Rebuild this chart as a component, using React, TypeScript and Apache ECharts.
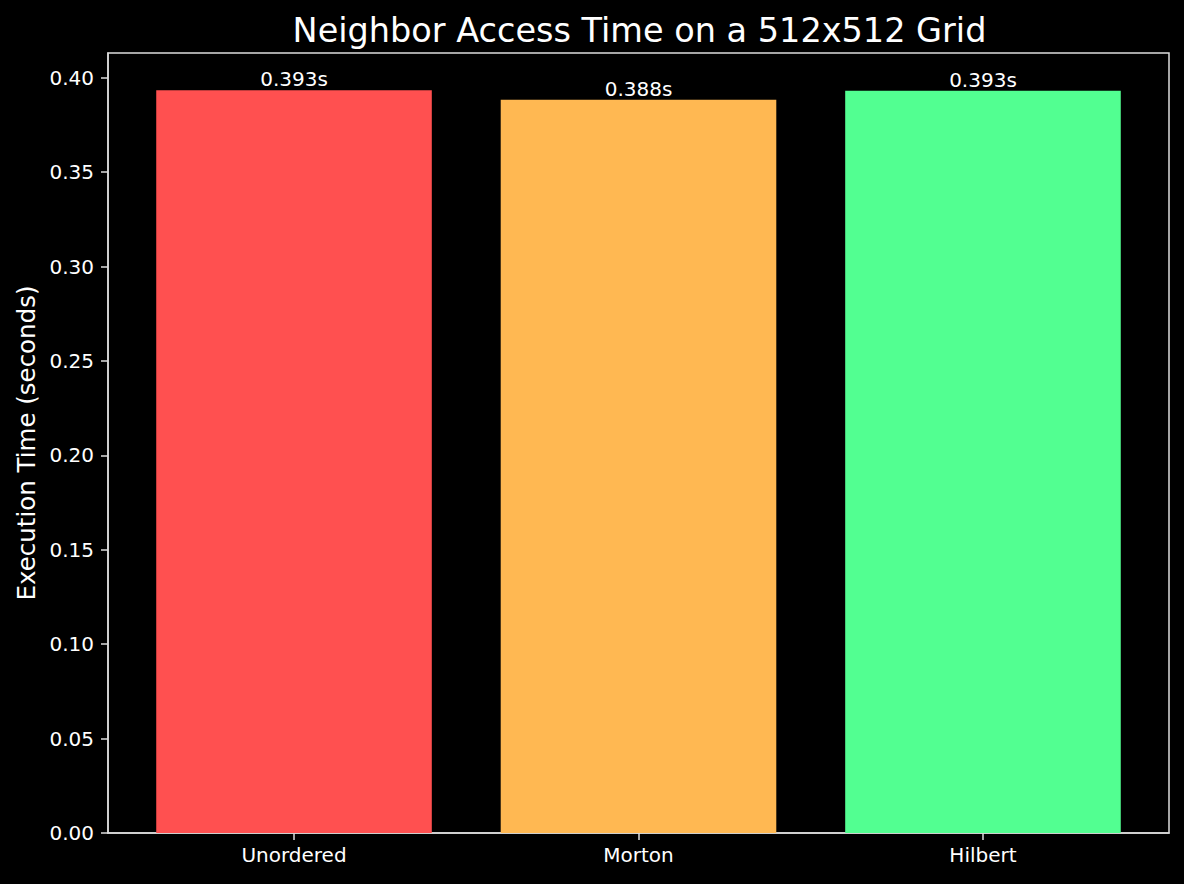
import React, { useEffect, useRef } from "react";
import * as echarts from "echarts";

const categories = ["Unordered", "Morton", "Hilbert"];
const times = [0.3934, 0.3884, 0.3931];
const barColors = ["#ff5050", "#ffb852", "#52ff91"];
const yTicks = [0, 0.05, 0.1, 0.15, 0.2, 0.25, 0.3, 0.35, 0.4];
const yMax = 0.4131;
const xMin = -0.54;
const xMax = 2.54;

export default function App() {
  const ref = useRef<HTMLDivElement>(null);
  useEffect(() => {
    document.body.style.margin = "0";
    document.body.style.background = "#000";
    const chart = echarts.init(ref.current!, undefined, { renderer: "svg" });
    const font = "DejaVu Sans";
    const axisColor = "#dddddd";
    const plotLeft = 108;
    const plotRight = 1169;
    const barW = (0.8 * (plotRight - plotLeft)) / (xMax - xMin);
    chart.setOption({
      animation: false,
      backgroundColor: "#000000",
      textStyle: { fontFamily: font },
      title: {
        text: "Neighbor Access Time on a 512x512 Grid",
        left: (plotLeft + plotRight) / 2 - 4,
        textAlign: "center",
        top: 8,
        textStyle: { color: "#ffffff", fontSize: 33.5, fontWeight: "normal", fontFamily: font },
      },
      grid: {
        left: plotLeft,
        right: 1184 - plotRight,
        top: 53,
        bottom: 884 - 833,
        show: true,
        borderColor: axisColor,
        borderWidth: 1.5,
        backgroundColor: "transparent",
      },
      xAxis: {
        type: "value",
        min: xMin,
        max: xMax,
        splitLine: { show: false },
        axisLine: { show: true, onZero: false, lineStyle: { color: axisColor, width: 1.5 } },
        axisTick: { show: true, length: 7, customValues: [0, 1, 2], lineStyle: { color: axisColor, width: 1.5 } },
        axisLabel: {
          customValues: [0, 1, 2],
          color: "#ffffff",
          fontSize: 20,
          fontFamily: font,
          margin: 12,
          formatter: (v: number) => categories[Math.round(v)] ?? "",
        },
      },
      yAxis: {
        type: "value",
        min: 0,
        max: yMax,
        name: "Execution Time (seconds)",
        nameLocation: "middle",
        nameGap: 68,
        nameTextStyle: { color: "#ffffff", fontSize: 24.5, fontFamily: font },
        splitLine: { show: false },
        axisLine: { show: true, onZero: false, lineStyle: { color: axisColor, width: 1.5 } },
        axisTick: { show: true, length: 7, customValues: yTicks, lineStyle: { color: axisColor, width: 1.5 } },
        axisLabel: {
          customValues: yTicks,
          color: "#ffffff",
          fontSize: 20,
          fontFamily: font,
          margin: 14,
          formatter: (v: number) => v.toFixed(2),
        },
      },
      series: [
        {
          type: "bar",
          barWidth: barW,
          data: times.map((t, i) => ({ value: [i, t], itemStyle: { color: barColors[i] } })),
          label: {
            show: true,
            position: "top",
            distance: 1,
            color: "#ffffff",
            fontSize: 20,
            fontFamily: font,
            formatter: (p: any) => p.value[1].toFixed(3) + "s",
          },
        },
      ],
    });
    return () => chart.dispose();
  }, []);
  return <div ref={ref} style={{ width: 1184, height: 884 }} />;
}
